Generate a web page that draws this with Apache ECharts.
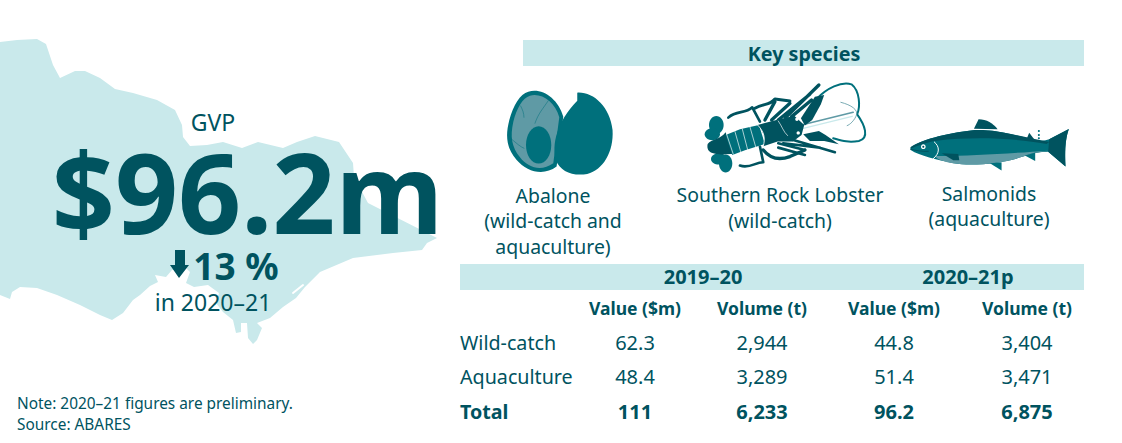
<!DOCTYPE html>
<html>
<head>
<meta charset="utf-8">
<style>html,body{margin:0;padding:0;background:#fff}#main{width:1122px;height:443px}</style>
<script src="https://cdn.jsdelivr.net/npm/echarts@6/dist/echarts.min.js"></script>
</head>
<body>
<div id="main"></div>
<script>
// figures from the table
const years = ['2019–20', '2020–21p'];
const columns = ['Value ($m)', 'Volume (t)', 'Value ($m)', 'Volume (t)'];
const rowNames = ['Wild-catch', 'Aquaculture', 'Total'];
const wildCatch = ['62.3', '2,944', '44.8', '3,404'];
const aquaculture = ['48.4', '3,289', '51.4', '3,471'];
const total = ['111', '6,233', '96.2', '6,875'];
const rows = [wildCatch, aquaculture, total];

const species = [
  ['Abalone', '(wild-catch and', 'aquaculture)'],
  ['Southern Rock Lobster', '(wild-catch)'],
  ['Salmonids', '(aquaculture)']
];

const DARK = '#00535f', MID = '#00707c', SOFT = '#5f9aa5', PALE = '#c9e9eb';
const FONT = '"Noto Sans", sans-serif';

const colX = [635, 762, 894, 1027];
const yearX = [703, 968];
const rowY = [342, 376, 411];

function text(str, x, y, size, opts) {
  opts = opts || {};
  return {
    type: 'text', x: x, y: y, silent: true,
    style: {
      text: str, fill: opts.fill || DARK, fontFamily: FONT,
      fontSize: size, fontWeight: opts.bold ? 700 : 400,
      lineHeight: opts.lineHeight || size,
      align: opts.align || 'center', verticalAlign: 'middle'
    }
  };
}
function path(d, fill, stroke, width) {
  return {
    type: 'path', silent: true,
    shape: { pathData: d },
    style: { fill: fill || 'none', stroke: stroke || 'none', lineWidth: width || 0, lineCap: 'round', lineJoin: 'round' }
  };
}
function blob(cx, cy, rx, ry, fill) {
  return { type: 'ellipse', silent: true, shape: { cx: cx, cy: cy, rx: rx, ry: ry }, style: { fill: fill } };
}
function icon(x, y, children) {
  return { type: 'group', x: x, y: y, scaleX: 1 / 3, scaleY: 1 / 3, children: children };
}

const mapOutline = 'M0,42 L17,40 37,39 46,44 53,65 60,78 75,71 85,71 100,78 115,89 133,93 157,100 175,110 182,125 183,137 190,146 207,145 223,142 242,148 258,142 283,148 297,142 315,136 339,142 353,163 354,177 368,203 437,238 427,243 422,250 393,253 353,258 320,272 305,287 296,298 283,307 270,318 257,323 262,328 257,340 253,344 248,338 247,323 241,323 241,332 236,333 233,320 223,312 216,303 219,293 208,285 194,287 186,283 190,272 185,267 172,270 166,277 155,275 158,282 150,286 140,295 133,300 123,313 112,320 100,315 80,305 57,295 37,288 20,287 12,292 10,299 0,295 Z';

const abalone = icon(500, 80, [
  path('M85,35 C125,22 175,55 190,110 L170,260 C130,290 80,275 50,240 C20,205 15,170 28,120 C40,75 60,42 85,35 Z', MID),
  path('M90,47 C125,38 165,65 178,112 L160,250 C125,275 85,265 60,232 C35,200 30,170 40,125 C50,85 68,53 90,47 Z', SOFT),
  path('M145,62 C130,85 115,100 105,130 M35,178 C50,190 60,200 72,205 M62,78 C68,90 72,100 72,112', 'none', MID, 1.5),
  blob(116, 195, 38, 56, MID),
  path('M232,38 C280,35 330,80 338,150 C342,215 310,270 262,282 C220,290 180,275 168,240 C155,195 170,125 232,62 Z', MID)
]);

const lobster = icon(695, 75, [
  // antennae
  path('M365,72 C395,40 440,18 470,28 C495,48 497,95 487,118 C510,150 525,190 492,198 C460,204 440,197 415,190', 'none', MID, 6),
  path('M320,150 L475,112', 'none', SOFT, 5),
  path('M325,160 L472,124', 'none', PALE, 4),
  path('M438,82 C470,90 490,105 485,120 C480,135 465,150 457,152', 'none', SOFT, 2.5),
  // legs
  path('M100,128 C125,105 150,118 172,97 L195,140', 'none', DARK, 8),
  path('M180,100 C205,85 225,92 240,72 L285,78', 'none', DARK, 9),
  path('M210,135 L240,80 M230,135 L285,85 M250,135 L345,58 M272,128 L372,30 M290,125 L350,75', 'none', DARK, 10),
  path('M135,272 C165,282 180,262 205,262 L195,215', 'none', DARK, 8),
  path('M205,225 C225,250 250,258 285,245 L330,225', 'none', DARK, 10),
  path('M250,205 L330,225 M265,205 L375,218 M285,192 L420,232 M250,218 L330,240', 'none', DARK, 8),
  path('M325,178 L372,168 L392,180 L432,208 L388,198 L345,198 Z', DARK),
  path('M318,130 L360,65 L388,60 L378,88 L352,135 L330,152 Z', DARK),
  // tail fan
  blob(64, 150, 22, 27, MID),
  blob(52, 178, 23, 18, MID),
  blob(72, 252, 24, 17, MID),
  blob(92, 266, 20, 27, MID),
  path('M38,207 C50,192 75,195 92,172 L115,238 C95,236 75,242 55,235 C40,232 35,220 38,207 Z', DARK),
  // abdomen
  path('M92,180 L135,163 L192,150 L210,207 L150,226 L112,240 Z', MID),
  path('M95,178 L115,238 M120,170 L137,230 M142,162 L158,224 M165,156 L182,215', 'none', '#ffffff', 2),
  // carapace
  path('M188,150 L250,134 L298,122 L328,150 L320,180 L294,200 L248,200 L205,214 C212,190 207,170 188,150 Z', DARK),
  path('M250,138 C262,155 265,170 278,182', 'none', '#ffffff', 2),
  path('M188,150 C208,170 212,190 205,214', 'none', '#ffffff', 2.5),
  blob(306, 133, 5, 5, '#ffffff'),
  blob(310, 174, 5, 5, '#ffffff')
]);

const fish = icon(900, 110, [
  path('M222,56 L236,28 C260,28 280,40 293,58 Z', DARK),
  path('M380,88 L388,68 L403,88 Z', DARK),
  path('M32,112 C60,92 130,70 225,60 C290,58 340,75 385,85 C410,92 430,95 448,88 L507,57 C495,90 495,130 497,170 L445,125 C420,125 395,130 370,140 C310,160 220,170 160,160 C110,148 60,138 32,120 Z', MID),
  path('M32,112 C60,92 130,70 225,60 C290,58 340,75 448,96 L440,102 C340,84 220,80 110,92 C80,96 50,108 32,116 Z', DARK),
  path('M448,88 L507,57 C495,90 495,130 497,170 L445,125 Z', DARK),
  path('M105,138 C180,140 330,130 445,122 C420,125 395,130 370,140 C310,160 220,170 160,160 C130,155 110,147 105,138 Z', SOFT),
  path('M125,130 L175,132 L178,151 L160,151 Z', DARK),
  path('M270,160 L305,157 L305,182 Z', MID),
  path('M375,137 L406,128 L406,153 Z', MID),
  path('M32,118 C50,122 65,125 85,124', 'none', DARK, 3),
  path('M103,96 C120,110 120,130 100,146', 'none', '#ffffff', 3),
  blob(70, 110, 7, 7, '#ffffff'),
  blob(70, 110, 3, 3, DARK),
  blob(417, 63, 3, 3, MID),
  blob(417, 75, 3, 3, MID),
  blob(417, 85, 3, 3, MID)
]);

const elements = [
  path(mapOutline, PALE),
  path('M293,293 L303,285', 'none', '#ffffff', 2),
  { type: 'rect', silent: true, shape: { x: 523, y: 40, width: 561, height: 26 }, style: { fill: PALE } },
  { type: 'rect', silent: true, shape: { x: 460, y: 264, width: 624, height: 26 }, style: { fill: PALE } },
  abalone, lobster, fish,
  path('M175,250 L185,250 L185,265 L189,265 L179,278 L170,265 L175,265 Z', DARK),
  text('GVP', 213, 122, 23),
  text('$96.2m', 247.5, 191, 110.5, { bold: true, lineHeight: 84 }),
  text('13 %', 236, 265, 37, { bold: true, lineHeight: 28 }),
  text('in 2020–21', 213, 302, 23, { lineHeight: 22 }),
  text('Note: 2020–21 figures are preliminary.', 17, 403, 15.4, { align: 'left' }),
  text('Source: ABARES', 17, 424, 15.4, { align: 'left' }),
  text('Key species', 804, 53, 19.7, { bold: true })
];

const speciesX = [553, 780, 989];
const speciesY = [195, 194, 193];
const speciesGap = [25.5, 26.5, 25.5];
species.forEach(function (lines, s) {
  lines.forEach(function (line, i) {
    elements.push(text(line, speciesX[s], speciesY[s] + i * speciesGap[s], 19.4));
  });
});
years.forEach(function (y, i) {
  elements.push(text(y, yearX[i], 276, 20, { bold: true }));
});
columns.forEach(function (c, i) {
  elements.push(text(c, colX[i], 308, 17.5, { bold: true }));
});
rowNames.forEach(function (name, r) {
  const bold = r === 2;
  elements.push(text(name, 460, rowY[r], 19.7, { align: 'left', bold: bold }));
  rows[r].forEach(function (v, i) {
    elements.push(text(v, colX[i], rowY[r], 20, { bold: bold }));
  });
});

const chart = echarts.init(document.getElementById('main'), null, { renderer: 'svg', width: 1122, height: 443 });
chart.setOption({
  animation: false,
  backgroundColor: '#fff',
  series: [{
    type: 'custom',
    coordinateSystem: 'none',
    silent: true,
    data: [0],
    renderItem: function () {
      return { type: 'group', children: elements };
    }
  }]
});
</script>
</body>
</html>
